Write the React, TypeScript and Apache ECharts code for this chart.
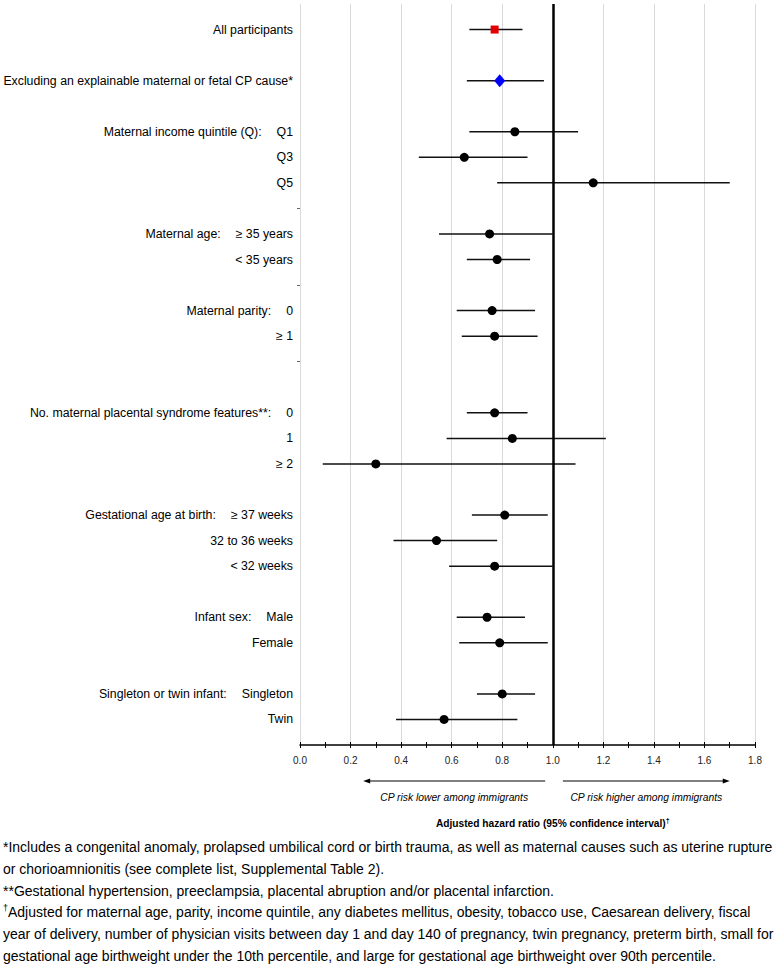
import React, { useEffect, useRef } from 'react';
import * as echarts from 'echarts';

const FONT = '"Liberation Sans", Arial, sans-serif';

// vertical slot of each row (0 = top row)
const rowSlots = [0, 2, 4, 5, 6, 8, 9, 11, 12, 15, 16, 17, 19, 20, 21, 23, 24, 26, 27];
const groupLabels = [
  'All participants',
  'Excluding an explainable maternal or fetal CP cause*',
  'Maternal income quintile (Q):', '', '',
  'Maternal age:', '',
  'Maternal parity:', '',
  'No. maternal placental syndrome features**:', '', '',
  'Gestational age at birth:', '', '',
  'Infant sex:', '',
  'Singleton or twin infant:', '',
];
const subLabels = [
  '', '',
  'Q1', 'Q3', 'Q5',
  '≥ 35 years', '< 35 years',
  '0', '≥ 1',
  '0', '1', '≥ 2',
  '≥ 37 weeks', '32 to 36 weeks', '< 32 weeks',
  'Male', 'Female',
  'Singleton', 'Twin',
];
const estimates = [0.77, 0.79, 0.85, 0.65, 1.16, 0.75, 0.78, 0.76, 0.77, 0.77, 0.84, 0.30, 0.81, 0.54, 0.77, 0.74, 0.79, 0.80, 0.57];
const lowerCI = [0.67, 0.66, 0.67, 0.47, 0.78, 0.55, 0.66, 0.62, 0.64, 0.66, 0.58, 0.09, 0.68, 0.37, 0.59, 0.62, 0.63, 0.70, 0.38];
const upperCI = [0.88, 0.965, 1.10, 0.90, 1.70, 1.00, 0.91, 0.93, 0.94, 0.90, 1.21, 1.09, 0.98, 0.78, 1.00, 0.89, 0.98, 0.93, 0.86];
const markerKinds = ['square', 'diamond', 'circle', 'circle', 'circle', 'circle', 'circle', 'circle', 'circle', 'circle', 'circle', 'circle', 'circle', 'circle', 'circle', 'circle', 'circle', 'circle', 'circle'];
const separatorTicks = [7, 10, 13];
const referenceValue = 1.0;

const leftArrow = [0.97, 0.25];
const rightArrow = [1.04, 1.70];
const leftArrowText = 'CP risk lower among immigrants';
const rightArrowText = 'CP risk higher among immigrants';
const axisTitle = 'Adjusted hazard ratio (95% confidence interval)';

const footnotes = [
  { sup: '', text: '*Includes a congenital anomaly, prolapsed umbilical cord or birth trauma, as well as maternal causes such as uterine rupture' },
  { sup: '', text: 'or chorioamnionitis (see complete list, Supplemental Table 2).' },
  { sup: '', text: '**Gestational hypertension, preeclampsia, placental abruption and/or placental infarction.' },
  { sup: '†', text: 'Adjusted for maternal age, parity, income quintile, any diabetes mellitus, obesity, tobacco use, Caesarean delivery, fiscal' },
  { sup: '', text: 'year of delivery, number of physician visits between day 1 and day 140 of pregnancy, twin pregnancy, preterm birth, small for' },
  { sup: '', text: 'gestational age birthweight under the 10th percentile, and large for gestational age birthweight over 90th percentile.' },
];

export default function App() {
  const ref = useRef<HTMLDivElement>(null);
  useEffect(() => {
    if (!ref.current) return;
    const chart = echarts.init(ref.current, undefined, { renderer: 'svg' });

    const ciData = rowSlots.map((s, i) => [lowerCI[i], upperCI[i], s]);
    const pts = (kind: string) =>
      rowSlots.map((s, i) => (markerKinds[i] === kind ? [estimates[i], s] : null)).filter(Boolean);

    chart.setOption({
      animation: false,
      grid: { left: 300, right: 21, top: 4, bottom: 220, containLabel: false },
      xAxis: [
        {
          type: 'value', min: 0, max: 1.8, interval: 0.2, position: 'bottom',
          axisLine: { show: true, onZero: false, lineStyle: { color: '#000', width: 1.5 } },
          axisTick: { show: true, length: 3, lineStyle: { color: '#000', width: 1 } },
          minorTick: { show: true, splitNumber: 2, length: 3, lineStyle: { color: '#000', width: 1 } },
          splitLine: { show: true, lineStyle: { color: '#d9d9d9', width: 1 } },
          axisLabel: { formatter: (v: number) => v.toFixed(1), fontSize: 10, color: '#222', fontFamily: FONT, margin: 10 },
        },
        {
          type: 'value', min: 0, max: 1.8, interval: 0.1, position: 'bottom',
          axisLine: { show: false, onZero: false },
          axisTick: { show: true, inside: true, length: 3, lineStyle: { color: '#000', width: 1 } },
          splitLine: { show: false },
          axisLabel: { show: false },
        },
      ],
      yAxis: {
        type: 'value', min: -1, max: 28, inverse: true,
        axisLine: { show: false, onZero: false },
        splitLine: { show: false },
        axisTick: { show: true, customValues: separatorTicks, length: 3, lineStyle: { color: '#666' } },
        axisLabel: {
          customValues: rowSlots,
          margin: 7,
          formatter: (v: number) => {
            const i = rowSlots.indexOf(v);
            if (i < 0) return '';
            const g = groupLabels[i];
            const s = subLabels[i];
            if (g && s) return `{g|${g}}{s|${s}}`;
            if (g) return `{g|${g}}`;
            return `{s|${s}}`;
          },
          rich: {
            g: { fontSize: 12.3, color: '#000', fontFamily: FONT },
            s: { fontSize: 12.3, color: '#000', fontFamily: FONT, padding: [0, 0, 0, 15] },
          },
        },
      },
      series: [
        {
          type: 'custom',
          xAxisIndex: 0,
          data: ciData,
          encode: { x: [0, 1], y: 2 },
          renderItem: (params: any, api: any) => {
            const a = api.coord([api.value(0), api.value(2)]);
            const b = api.coord([api.value(1), api.value(2)]);
            return {
              type: 'line',
              shape: { x1: a[0], y1: a[1], x2: b[0], y2: b[1] },
              style: { stroke: '#111', lineWidth: 1.5 },
            };
          },
          z: 2,
        },
        {
          type: 'scatter', xAxisIndex: 0, data: pts('circle'), symbol: 'circle', symbolSize: 9,
          itemStyle: { color: '#000', opacity: 1 }, z: 3,
          markLine: {
            silent: true, symbol: 'none', label: { show: false },
            lineStyle: { color: '#000', width: 2.5, type: 'solid' },
            data: [{ xAxis: referenceValue }],
          },
        },
        {
          type: 'scatter', xAxisIndex: 0, data: pts('square'), symbol: 'rect', symbolSize: 8,
          itemStyle: { color: '#e00000', opacity: 1 }, z: 3,
        },
        {
          type: 'scatter', xAxisIndex: 0, data: pts('diamond'), symbol: 'diamond', symbolSize: [11, 13],
          itemStyle: { color: '#0000ff', opacity: 1 }, z: 3,
        },
      ],
    });

    const px = (v: number) => chart.convertToPixel({ xAxisIndex: 0 }, v) as number;
    const arrowY = 781;
    const arrowHead = (tipX: number, dir: number) => ({
      type: 'polygon',
      shape: { points: [[tipX, arrowY], [tipX - dir * 7, arrowY - 2.5], [tipX - dir * 7, arrowY + 2.5]] },
      style: { fill: '#000' },
    });
    const lx1 = px(leftArrow[0]), lx2 = px(leftArrow[1]);
    const rx1 = px(rightArrow[0]), rx2 = px(rightArrow[1]);
    const graphics: any[] = [
      { type: 'line', shape: { x1: lx1, y1: arrowY, x2: lx2 + 4, y2: arrowY }, style: { stroke: '#000', lineWidth: 1 } },
      arrowHead(lx2, -1),
      { type: 'line', shape: { x1: rx1, y1: arrowY, x2: rx2 - 4, y2: arrowY }, style: { stroke: '#000', lineWidth: 1 } },
      arrowHead(rx2, 1),
      {
        type: 'text', x: (lx1 + lx2) / 2, y: 797,
        style: { text: leftArrowText, font: `italic 10.3px ${FONT}`, fill: '#000', align: 'center', verticalAlign: 'middle' },
      },
      {
        type: 'text', x: (rx1 + rx2) / 2, y: 797,
        style: { text: rightArrowText, font: `italic 10.3px ${FONT}`, fill: '#000', align: 'center', verticalAlign: 'middle' },
      },
      {
        type: 'text', x: px(referenceValue), y: 823,
        style: {
          text: `{b|${axisTitle}}{s|†}`, align: 'center', verticalAlign: 'middle',
          rich: {
            b: { fontSize: 10.2, fontWeight: 'bold', fontFamily: FONT, fill: '#000' },
            s: { fontSize: 7, fontWeight: 'bold', fontFamily: FONT, fill: '#000', padding: [0, 0, 6, 0] },
          },
        },
      },
    ];
    footnotes.forEach((f, i) => {
      graphics.push({
        type: 'text', x: 3, y: 847 + i * 21.8,
        style: {
          text: f.sup ? `{s|${f.sup}}{n|${f.text}}` : `{n|${f.text}}`,
          align: 'left', verticalAlign: 'middle',
          rich: {
            n: { fontSize: 14, fontFamily: FONT, fill: '#000' },
            s: { fontSize: 9, fontFamily: FONT, fill: '#000', padding: [0, 0, 8, 0] },
          },
        },
      });
    });
    chart.setOption({ graphic: graphics });

    return () => chart.dispose();
  }, []);
  return <div ref={ref} style={{ position: 'absolute', left: 0, top: 0, width: 776, height: 965 }} />;
}
